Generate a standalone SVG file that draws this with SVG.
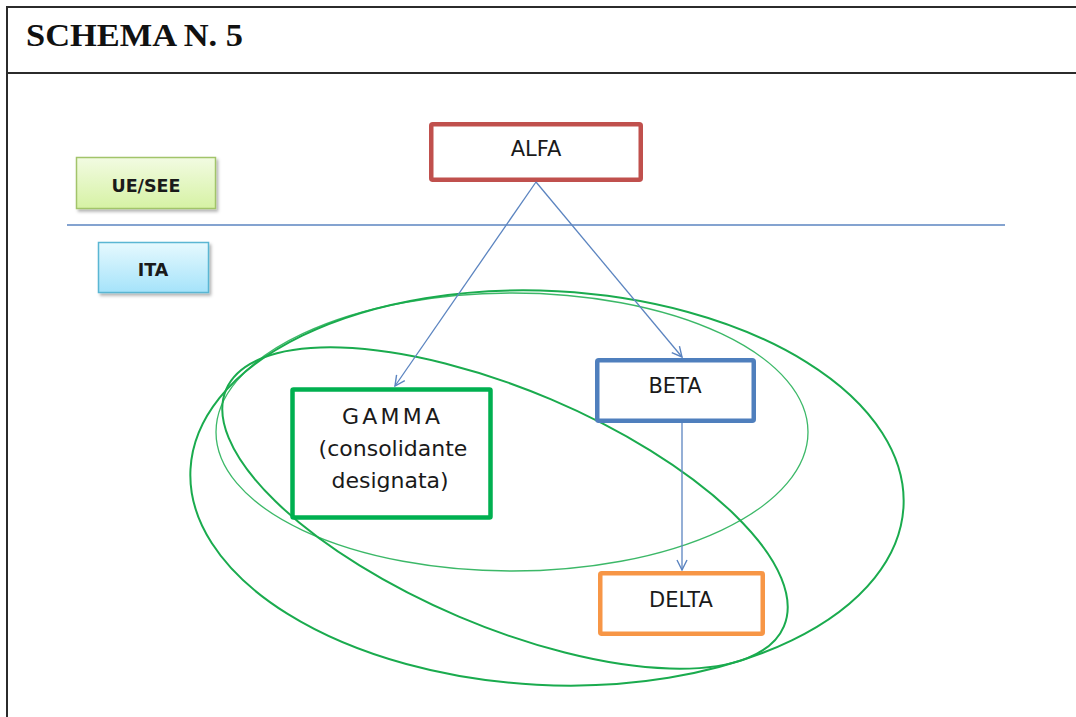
<svg xmlns="http://www.w3.org/2000/svg" width="1076" height="717" viewBox="0 0 1076 717">
  <style>
    .frame { stroke: #2b2b2b; stroke-width: 2; fill: none; }
    .title { font-family: "Liberation Serif", "Times New Roman", serif; font-weight: bold; font-size: 31px; fill: #111; }
    .lbl { font-family: "DejaVu Sans", "Liberation Sans", sans-serif; font-size: 21px; fill: #1a1a1a; text-anchor: middle; }
    .glbl { font-family: "DejaVu Sans", "Liberation Sans", sans-serif; font-size: 22px; fill: #1a1a1a; text-anchor: middle; }
    .tag { font-family: "DejaVu Sans", "Liberation Sans", sans-serif; font-weight: bold; font-size: 17.5px; fill: #1a1a1a; text-anchor: middle; }
    .box { fill: #ffffff; stroke-width: 4.5; }
    .conn { stroke: #5b84c0; stroke-width: 1.3; fill: none; marker-end: url(#arr); }
    .ell { fill: none; stroke: #1aab4e; }
  </style>
  <defs>
    <marker id="arr" viewBox="0 0 12 12" refX="11" refY="6" markerWidth="12" markerHeight="12" markerUnits="userSpaceOnUse" orient="auto">
      <path d="M1,1 L11,6 L1,11" fill="none" stroke="#5b84c0" stroke-width="1.4"/>
    </marker>
    <linearGradient id="gGreen" x1="0" y1="0" x2="0" y2="1">
      <stop offset="0" stop-color="#f2fbe2"/>
      <stop offset="1" stop-color="#d6f2a4"/>
    </linearGradient>
    <linearGradient id="gCyan" x1="0" y1="0" x2="0" y2="1">
      <stop offset="0" stop-color="#e6f9fe"/>
      <stop offset="1" stop-color="#a5e3fa"/>
    </linearGradient>
    <filter id="shadow" x="-10%" y="-20%" width="130%" height="150%">
      <feDropShadow dx="2" dy="2.5" stdDeviation="1.5" flood-color="#000" flood-opacity="0.3"/>
    </filter>
  </defs>

  <rect x="0" y="0" width="1076" height="717" fill="#ffffff"/>

  <g id="frame">
    <line class="frame" x1="7" y1="7" x2="1076" y2="7"/>
    <line class="frame" x1="7" y1="73" x2="1076" y2="73"/>
    <line class="frame" x1="7" y1="6" x2="7" y2="717"/>
    <text class="title" x="26" y="46" textLength="217" lengthAdjust="spacingAndGlyphs">SCHEMA N. 5</text>
  </g>

  <g id="divider">
    <line x1="67" y1="225" x2="1005" y2="225" stroke="#5b84c0" stroke-width="1.6"/>
  </g>

  <g id="ellipses">
    <ellipse class="ell" cx="547" cy="488" rx="357" ry="197" transform="rotate(3 547 488)" stroke-width="2"/>
    <ellipse class="ell" cx="512" cy="432" rx="296" ry="139" stroke-width="1.3" stroke-opacity="0.85"/>
    <ellipse class="ell" cx="505" cy="508" rx="303" ry="118" transform="rotate(23 505 508)" stroke-width="2"/>
  </g>

  <g id="ue-see">
    <rect x="76.5" y="157.5" width="139" height="51" fill="url(#gGreen)" stroke="#a2c46b" stroke-width="1.5" filter="url(#shadow)"/>
    <text class="tag" x="146" y="192">UE/SEE</text>
  </g>

  <g id="ita">
    <rect x="98.5" y="242.5" width="110" height="50" fill="url(#gCyan)" stroke="#5ab6d3" stroke-width="1.5" filter="url(#shadow)"/>
    <text class="tag" x="153" y="276">ITA</text>
  </g>

  <g id="alfa">
    <rect class="box" x="431.25" y="124.25" width="209.5" height="55.5" rx="1.5" stroke="#c0504d"/>
    <text class="lbl" x="536" y="156">ALFA</text>
  </g>

  <g id="beta">
    <rect class="box" x="597.25" y="360.25" width="156.5" height="60.5" rx="1.5" stroke="#4f7fbd"/>
    <text class="lbl" x="675" y="393">BETA</text>
  </g>

  <g id="gamma">
    <rect class="box" x="292.5" y="389.5" width="198" height="128" rx="1" stroke="#00b050" stroke-width="5"/>
    <text class="glbl" x="391" y="424" textLength="98" lengthAdjust="spacing">GAMMA</text>
    <text class="glbl" x="393" y="456">(consolidante</text>
    <text class="glbl" x="390" y="488">designata)</text>
  </g>

  <g id="delta">
    <rect class="box" x="600.25" y="573.25" width="162.5" height="60.5" rx="1.5" stroke="#f79646"/>
    <text class="lbl" x="681" y="607">DELTA</text>
  </g>

  <g id="connectors">
    <line class="conn" x1="536" y1="182" x2="395" y2="386"/>
    <line class="conn" x1="536" y1="182" x2="682" y2="357"/>
    <line class="conn" x1="682" y1="423" x2="682" y2="570"/>
  </g>
</svg>
